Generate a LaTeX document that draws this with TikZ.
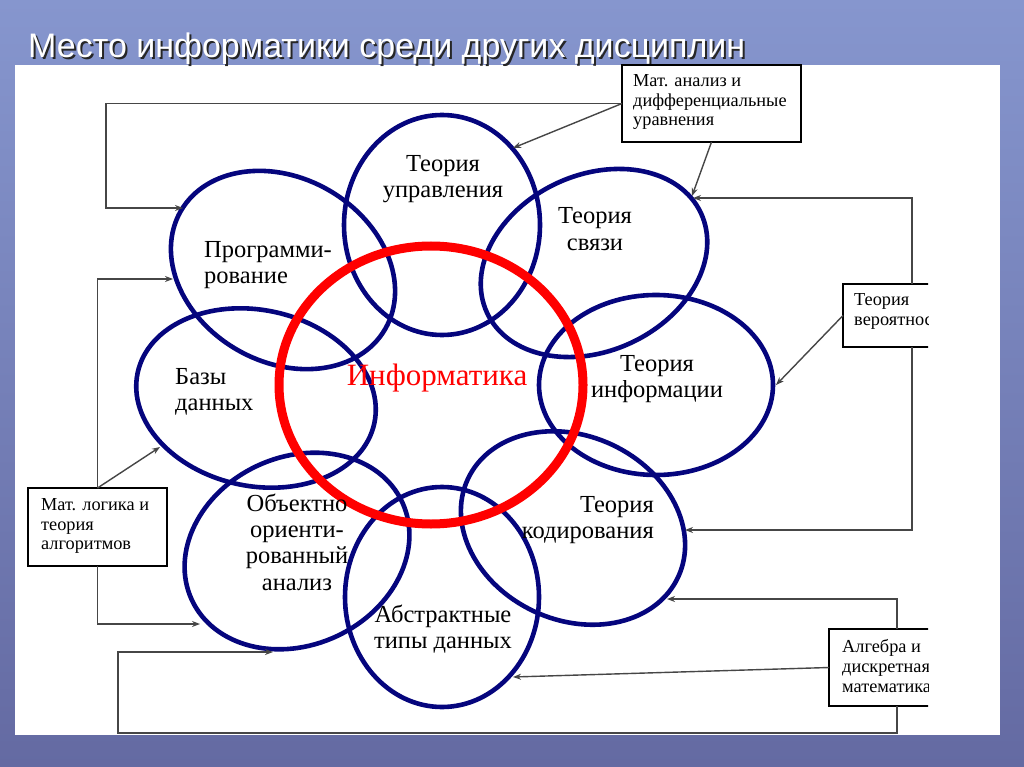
\documentclass[tikz,border=0pt]{standalone}
\usepackage{fontspec}
\setmainfont{Liberation Serif}
\newfontfamily\titlefont{Liberation Sans}
\usetikzlibrary{shapes.geometric,arrows.meta}
\definecolor{navyline}{RGB}{5,5,125}
\definecolor{bgtop}{RGB}{134,150,206}
\definecolor{bgbot}{RGB}{100,106,162}
\definecolor{conncol}{RGB}{70,70,70}
\tikzset{
  disc/.style={ellipse, draw=navyline, line width=4.6pt, inner sep=0pt, outer sep=0pt},
  conn/.style={draw=conncol, line width=1.4pt, -{Stealth[length=8pt,width=6pt]}},
  infobox/.style={rectangle, draw=black, line width=1.2pt, fill=white, inner sep=0pt, outer sep=0pt, anchor=north west},
  bodytxt/.style={font=\fontsize{24.5}{27}\selectfont, inner sep=0pt, text=black},
  boxtxt/.style={font=\fontsize{18.3}{20}\selectfont, inner sep=0pt, anchor=base west, text=black},
  titletxt/.style={font=\titlefont\fontsize{34}{40}\selectfont, inner sep=0pt, anchor=base west},
}
\begin{document}
\begin{tikzpicture}[x=1pt,y=-1pt]
\useasboundingbox (0,0) rectangle (1024,767);
\shade[top color=bgtop,bottom color=bgbot] (0,0) rectangle (1024,767);
\fill[white] (15,65) rectangle (1000,735);

% title
\node[titletxt, text=black!85] (titleshadow) at (30,60) {Место информатики среди других дисциплин};
\node[titletxt, text=white] (title) at (28,58) {Место информатики среди других дисциплин};

% ellipses
\node[disc, minimum width=236, minimum height=184, rotate=-30] (prog) at (283,270) {};
\node[disc, minimum width=196, minimum height=220] (upr) at (442,225) {};
\node[disc, minimum width=236, minimum height=176, rotate=25] (sv) at (594,263) {};
\node[disc, minimum width=242, minimum height=176, rotate=-12] (baz) at (256,398) {};
\node[disc, minimum width=234, minimum height=180] (inf) at (656,385) {};
\node[disc, minimum width=232, minimum height=184, rotate=-25] (kod) at (573,528) {};
\node[disc, minimum width=232, minimum height=188, rotate=25] (oop) at (297,551) {};
\node[disc, minimum width=194, minimum height=220] (abs) at (442,597) {};
\node[ellipse, draw=red, line width=9pt, inner sep=0pt, minimum width=304, minimum height=278] (infm) at (431,385) {};

% boxes
\node[infobox, minimum width=179, minimum height=77] (matan) at (622,65) {};
\node[infobox, minimum width=139, minimum height=78] (logic) at (28,488) {};
\begin{scope}
\clip (0,0) rectangle (928,767);
\node[infobox, minimum width=138, minimum height=63] (verq) at (843,284) {};
\node[infobox, minimum width=136, minimum height=77] (alg) at (829,629) {};
\node[boxtxt] (verq1) at (854,305) {Теория};
\node[boxtxt] (verq2) at (854,325) {вероятнос};
\node[boxtxt] (alg1) at (842,652) {Алгебра и};
\node[boxtxt] (alg2) at (842,672) {дискретная};
\node[boxtxt] (alg3) at (842,692) {математика};
\end{scope}
\node[boxtxt] (matan1) at (633,87) {Мат. анализ и};
\node[boxtxt] (matan2) at (633,107) {дифференциальные};
\node[boxtxt] (matan3) at (633,126) {уравнения};
\node[boxtxt] (logic1) at (41,510) {Мат. логика и};
\node[boxtxt] (logic2) at (41,530) {теория};
\node[boxtxt] (logic3) at (41,549) {алгоритмов};

% arrow targets on the ellipses
\coordinate (pIn1) at (183,208);
\coordinate (pIn2) at (173,279);
\coordinate (uprIn) at (513,148);
\coordinate (svIn1) at (692,196);
\coordinate (svIn2) at (693,198);
\coordinate (infIn) at (776,385);
\coordinate (kodIn1) at (685,530);
\coordinate (kodIn2) at (667,599);
\coordinate (bazIn) at (160,447);
\coordinate (oopIn1) at (200,624);
\coordinate (oopIn2) at (273,652);
\coordinate (absIn) at (513,677);

% connectors
\draw[conn] (matan.west) -- (106,103.5) |- (pIn1);
\draw[conn] (matan.west) -- (uprIn);
\draw[conn] (matan.south) -- (svIn1);
\draw[conn] (verq.north) |- (svIn2);
\draw[conn] (verq.west) -- (infIn);
\draw[conn] (verq.south) |- (kodIn1);
\draw[conn] (logic.north) |- (pIn2);
\draw[conn] (logic.north) -- (bazIn);
\draw[conn] (logic.south) |- (oopIn1);
\draw[conn] (alg.north) |- (kodIn2);
\draw[conn] (alg.west) -- (absIn);
\draw[conn] (alg.south) |- (118,733) |- (oopIn2);

% texts in the ellipses
\node[bodytxt, anchor=base] (upr1) at (443,172) {Теория};
\node[bodytxt, anchor=base] (upr2) at (443,198) {управления};
\node[bodytxt, anchor=base] (sv1) at (595,223) {Теория};
\node[bodytxt, anchor=base] (sv2) at (595,250) {связи};
\node[bodytxt, anchor=base west] (prog1) at (204,257) {Программи-};
\node[bodytxt, anchor=base west] (prog2) at (204,283) {рование};
\node[bodytxt, anchor=base west] (baz1) at (175,384) {Базы};
\node[bodytxt, anchor=base west] (baz2) at (175,410) {данных};
\node[bodytxt, anchor=base] (inf1) at (657,371) {Теория};
\node[bodytxt, anchor=base] (inf2) at (657,397) {информации};
\node[bodytxt, anchor=base east] (kod1) at (654,512) {Теория};
\node[bodytxt, anchor=base east] (kod2) at (654,538) {кодирования};
\node[bodytxt, anchor=base] (oop1) at (297,511) {Объектно};
\node[bodytxt, anchor=base] (oop2) at (297,537) {ориенти-};
\node[bodytxt, anchor=base] (oop3) at (297,563) {рованный};
\node[bodytxt, anchor=base] (oop4) at (297,590) {анализ};
\node[bodytxt, anchor=base] (abs1) at (443,622) {Абстрактные};
\node[bodytxt, anchor=base] (abs2) at (443,648) {типы данных};
\node[bodytxt, anchor=base, text=red, font=\fontsize{31}{34}\selectfont] (infmtxt) at (437,385) {Информатика};
\end{tikzpicture}
\end{document}
